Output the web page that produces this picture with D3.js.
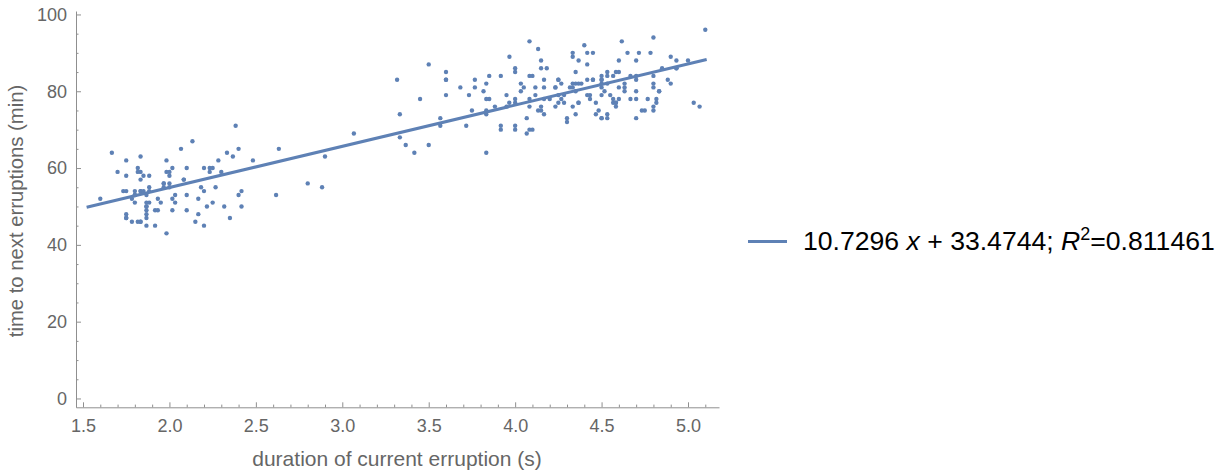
<!DOCTYPE html>
<html><head><meta charset="utf-8">
<script src="https://cdn.jsdelivr.net/npm/d3@7"></script>
<style>
html,body{margin:0;padding:0;background:#fff;}
text{font-family:"Liberation Sans",Arial,sans-serif;}
</style></head>
<body><svg id="c" width="1228" height="474"></svg>
<script>
// Old Faithful: eruption duration and waiting time to next eruption
const eruptions = [3.600,1.800,3.333,2.283,4.533,2.883,4.700,3.600,1.950,4.350,1.833,3.917,4.200,1.750,4.700,2.167,1.750,4.800,1.600,4.250,1.800,1.750,3.450,3.067,4.533,3.600,1.967,4.083,3.850,4.433,4.300,4.467,3.367,4.033,3.833,2.017,1.867,4.833,1.833,4.783,4.350,1.883,4.567,1.750,4.533,3.317,3.833,2.100,4.633,2.000,4.800,4.716,1.833,4.833,1.733,4.883,3.717,1.667,4.567,4.317,2.233,4.500,1.750,4.800,1.817,4.400,4.167,4.700,2.067,4.700,4.033,1.967,4.500,4.000,1.983,5.067,2.017,4.567,3.883,3.600,4.133,4.333,4.100,2.633,4.067,4.933,3.950,4.517,2.167,4.000,2.200,4.333,1.867,4.817,1.833,4.300,4.667,3.750,1.867,4.900,2.483,4.367,2.100,4.500,4.050,1.867,4.700,1.783,4.850,3.683,4.733,2.300,4.900,4.417,1.700,4.633,2.317,4.600,1.817,4.417,2.617,4.067,4.250,1.967,4.600,3.767,1.917,4.500,2.267,4.650,1.867,4.167,2.800,4.333,1.833,4.383,1.883,4.933,2.033,3.733,4.233,2.233,4.533,4.817,4.333,1.983,4.633,2.017,5.100,1.800,5.033,4.000,2.400,4.600,3.567,4.000,4.500,4.083,1.800,3.967,2.200,4.150,2.000,3.833,3.500,4.583,2.367,5.000,1.933,4.617,1.917,2.083,4.583,3.333,4.167,4.333,4.500,2.417,4.000,4.167,1.883,4.583,4.250,3.767,2.033,4.433,4.083,1.833,4.417,2.183,4.800,1.833,4.800,4.100,3.966,4.233,3.500,4.366,2.250,4.667,2.100,4.350,4.133,1.867,4.600,1.783,4.367,3.850,1.933,4.500,2.383,4.700,1.867,3.833,3.417,4.233,2.400,4.800,2.000,4.150,1.867,4.267,1.750,4.483,4.000,4.117,4.083,4.267,3.917,4.550,4.083,2.417,4.183,2.217,4.450,1.883,1.850,4.283,3.950,2.333,4.150,2.350,4.933,2.900,4.583,3.833,2.083,4.367,2.133,4.350,2.200,4.450,3.567,4.500,4.150,3.817,3.917,4.450,2.000,4.283,4.767,4.533,1.850,4.250,1.983,2.250,4.750,4.117,2.150,4.417,1.817,4.467];
const waiting = [79,54,74,62,85,55,88,85,51,85,54,84,78,47,83,52,62,84,52,79,51,47,78,69,74,83,55,76,78,79,73,77,66,80,74,52,48,80,59,90,80,58,84,58,73,83,64,53,82,59,75,90,54,80,54,83,71,64,77,81,59,84,48,82,60,92,78,78,65,73,82,56,79,71,62,76,60,78,76,83,75,82,70,65,73,88,76,80,48,86,60,90,50,78,63,72,84,75,51,82,62,88,49,83,81,47,84,52,86,81,75,59,89,79,59,81,50,85,59,87,53,69,77,56,88,81,45,82,55,90,45,83,56,89,46,82,51,86,53,79,81,60,82,77,76,59,80,49,96,53,77,77,65,81,71,70,81,93,53,89,45,86,58,78,66,76,63,88,52,93,49,57,77,68,81,81,73,50,85,74,55,77,83,83,51,78,84,46,83,55,81,57,76,84,77,81,87,77,51,78,60,82,91,53,78,46,77,84,49,83,71,80,49,75,64,76,53,94,55,76,50,82,54,75,78,79,78,78,70,79,70,54,86,50,90,54,54,77,79,64,75,47,86,63,85,82,57,82,67,74,54,83,73,73,88,80,71,83,56,79,78,84,58,83,43,60,75,81,46,90,46,74];
// fitted model
const fitSlope = 10.7296;
const fitIntercept = 33.4744;
const fitRange = [1.521, 5.108];
const xMajorTicks = [1.5, 2.0, 2.5, 3.0, 3.5, 4.0, 4.5, 5.0];
const yMajorTicks = [0, 20, 40, 60, 80, 100];
const xLabel = "duration of current erruption (s)";
const yLabel = "time to next erruptions (min)";

const svg = d3.select("#c");
const blue = "#5e81b5";
const axisGray = "#8f8f8f";
const textGray = "#666666";

const x = d3.scaleLinear().domain([1.4595, 5.1793]).range([76, 719]);
const y = d3.scaleLinear().domain([-2.3, 100.9]).range([407.3, 11]);

const xMinor = d3.range(15, 52).map(v => v / 10).filter(v => !xMajorTicks.some(t => Math.abs(t - v) < 1e-9));
const yMinor = d3.range(0, 101, 5).filter(v => v % 20 !== 0);

function styleAxis(g) {
  g.selectAll("path.domain").attr("stroke", axisGray).attr("stroke-width", 1);
  g.selectAll(".tick line").attr("stroke", axisGray);
  g.selectAll(".tick text").attr("fill", textGray).style("font-size", "18px").style("font-family", '"Liberation Sans",Arial,sans-serif');
}

// x axis
const gx = svg.append("g").attr("transform", "translate(0,407.3)")
  .call(d3.axisBottom(x).tickValues(xMajorTicks).tickFormat(d3.format(".1f")).tickSizeInner(-5).tickSizeOuter(0).tickPadding(8));
styleAxis(gx);
gx.selectAll(".tick text").attr("dy", null).attr("y", 25);
const gxm = svg.append("g").attr("transform", "translate(0,407.3)")
  .call(d3.axisBottom(x).tickValues(xMinor).tickFormat("").tickSizeInner(-2.7).tickSizeOuter(0));
gxm.select("path.domain").remove();
gxm.selectAll(".tick line").attr("stroke", axisGray);

// y axis
const gy = svg.append("g").attr("transform", "translate(76,0)")
  .call(d3.axisLeft(y).tickValues(yMajorTicks).tickFormat(d3.format("d")).tickSizeInner(-5).tickSizeOuter(0).tickPadding(9));
styleAxis(gy);
const gym = svg.append("g").attr("transform", "translate(76,0)")
  .call(d3.axisLeft(y).tickValues(yMinor).tickFormat("").tickSizeInner(-2.5).tickSizeOuter(0));
gym.select("path.domain").remove();
gym.selectAll(".tick line").attr("stroke", axisGray);

// axis labels
svg.append("text").attr("x", 397).attr("y", 466).attr("text-anchor", "middle")
  .attr("fill", textGray).style("font-size", "21px").text(xLabel);
svg.append("text").attr("transform", "translate(23,211) rotate(-90)").attr("text-anchor", "middle")
  .attr("fill", textGray).style("font-size", "20.3px").text(yLabel);

// points
const pts = eruptions.map((e, i) => ({e, w: waiting[i]}));
svg.append("g").selectAll("circle").data(pts).join("circle")
  .attr("cx", d => x(d.e)).attr("cy", d => y(d.w)).attr("r", 2.2).attr("fill", blue);

// fit line
const line = d3.line().x(d => x(d)).y(d => y(fitIntercept + fitSlope * d));
svg.append("path").datum(fitRange).attr("d", line)
  .attr("stroke", blue).attr("stroke-width", 3).attr("fill", "none");

// legend
svg.append("line").attr("x1", 748).attr("x2", 787).attr("y1", 241.5).attr("y2", 241.5)
  .attr("stroke", blue).attr("stroke-width", 3);
const lt = svg.append("text").attr("x", 803).attr("y", 250).attr("fill", "#000").style("font-size", "26.6px");
lt.append("tspan").text(fitSlope.toFixed(4) + " ");
lt.append("tspan").style("font-style", "italic").text("x");
lt.append("tspan").text(" + " + fitIntercept.toFixed(4) + "; ");
lt.append("tspan").style("font-style", "italic").text("R");
lt.append("tspan").attr("dy", -10).style("font-size", "18px").text("2");
lt.append("tspan").attr("dy", 10).text("=0.811461");
</script></body></html>
